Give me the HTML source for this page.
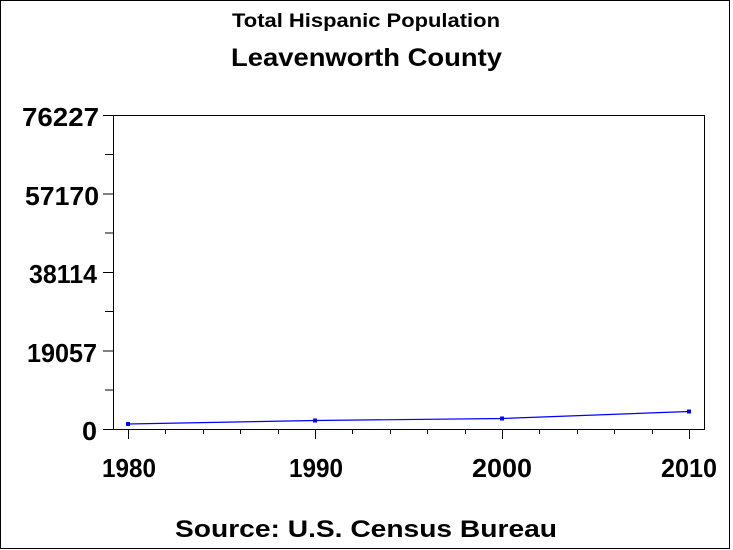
<!DOCTYPE html>
<html><head><style>body{margin:0;background:#fff}svg{display:block}text{font-family:"Liberation Sans",sans-serif;fill:#000}</style></head><body>
<svg width="733" height="550" viewBox="0 0 733 550">
<rect x="0.5" y="0.5" width="729" height="548" fill="#fff" stroke="#000"/>
<text x="232" y="27" font-size="19" font-weight="bold" textLength="268" lengthAdjust="spacingAndGlyphs">Total Hispanic Population</text>
<text x="231" y="66" font-size="25" font-weight="bold" textLength="271" lengthAdjust="spacingAndGlyphs">Leavenworth County</text>
<rect x="113.5" y="115.5" width="591" height="314" fill="none" stroke="#000"/>
<g stroke="#000">
<line x1="103" y1="115.5" x2="113" y2="115.5"/><line x1="103" y1="194" x2="113" y2="194"/><line x1="103" y1="272.5" x2="113" y2="272.5"/><line x1="103" y1="351" x2="113" y2="351"/><line x1="103" y1="429.5" x2="113" y2="429.5"/>
<line x1="105" y1="154.5" x2="113" y2="154.5"/><line x1="105" y1="233" x2="113" y2="233"/><line x1="105" y1="311.5" x2="113" y2="311.5"/><line x1="105" y1="390" x2="113" y2="390"/>
<line x1="128.5" y1="430" x2="128.5" y2="439"/><line x1="315.5" y1="430" x2="315.5" y2="439"/><line x1="502.5" y1="430" x2="502.5" y2="439"/><line x1="689.5" y1="430" x2="689.5" y2="439"/>
<line x1="165.5" y1="430" x2="165.5" y2="434"/><line x1="203.5" y1="430" x2="203.5" y2="434"/><line x1="240.5" y1="430" x2="240.5" y2="434"/><line x1="278.5" y1="430" x2="278.5" y2="434"/>
<line x1="352.5" y1="430" x2="352.5" y2="434"/><line x1="390.5" y1="430" x2="390.5" y2="434"/><line x1="427.5" y1="430" x2="427.5" y2="434"/><line x1="465.5" y1="430" x2="465.5" y2="434"/>
<line x1="539.5" y1="430" x2="539.5" y2="434"/><line x1="577.5" y1="430" x2="577.5" y2="434"/><line x1="614.5" y1="430" x2="614.5" y2="434"/><line x1="652.5" y1="430" x2="652.5" y2="434"/>
</g>
<g font-size="26" font-weight="bold" lengthAdjust="spacingAndGlyphs">
<text x="22" y="126" textLength="77" lengthAdjust="spacingAndGlyphs">76227</text>
<text x="25" y="205" textLength="74" lengthAdjust="spacingAndGlyphs">57170</text>
<text x="29" y="283" textLength="68" lengthAdjust="spacingAndGlyphs">38114</text>
<text x="27" y="362" textLength="70" lengthAdjust="spacingAndGlyphs">19057</text>
<text x="82" y="440" textLength="15" lengthAdjust="spacingAndGlyphs">0</text>
<text x="102" y="477" textLength="54" lengthAdjust="spacingAndGlyphs">1980</text>
<text x="289" y="477" textLength="54" lengthAdjust="spacingAndGlyphs">1990</text>
<text x="472" y="477" textLength="60" lengthAdjust="spacingAndGlyphs">2000</text>
<text x="661" y="477" textLength="56" lengthAdjust="spacingAndGlyphs">2010</text>
</g>
<polyline points="128,424 315,420.5 502,418.5 689,411.5" fill="none" stroke="#00f" stroke-width="1.2"/>
<g fill="#00f"><rect x="126" y="422" width="4" height="4"/><rect x="313" y="418.5" width="4" height="4"/><rect x="500" y="416.5" width="4" height="4"/><rect x="687" y="409.5" width="4" height="4"/></g>
<text x="175" y="537" font-size="24" font-weight="bold" textLength="382" lengthAdjust="spacingAndGlyphs">Source: U.S. Census Bureau</text>
</svg>
</body></html>
